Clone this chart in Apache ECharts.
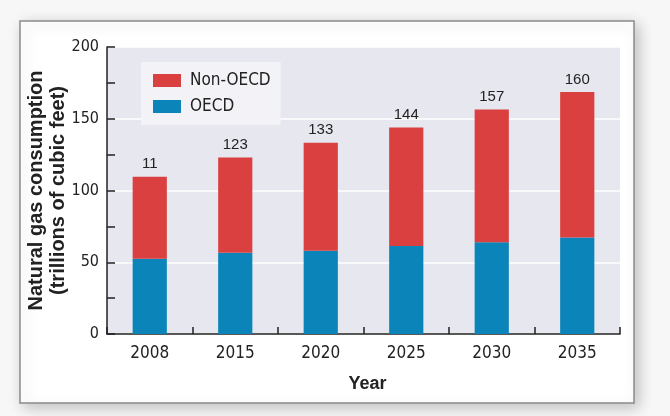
<!DOCTYPE html>
<html>
<head>
<meta charset="utf-8">
<script src="https://cdn.jsdelivr.net/npm/echarts@6/dist/echarts.min.js"></script>
<style>
html,body{margin:0;padding:0;background:#f7f7f7;}
#chart{width:670px;height:416px;}
</style>
</head>
<body>
<div id="chart"></div>
<script>
var years = ['2008', '2015', '2020', '2025', '2030', '2035'];
var oecd = [52.5, 56.6, 58.0, 61.3, 64.0, 67.3];
var nonOecd = [57.1, 66.4, 75.2, 82.6, 92.4, 101.4];
var topLabels = ['11', '123', '133', '144', '157', '160'];
var yTicks = [0, 50, 100, 150, 200];

var narrow = '"DejaVu Sans Condensed", "Liberation Sans Narrow", sans-serif';
var sans = '"Liberation Sans", Arial, sans-serif';

var chart = echarts.init(document.getElementById('chart'), null, {renderer: 'canvas'});
chart.setOption({
  animation: false,
  backgroundColor: '#f7f7f7',
  graphic: [{
    type: 'rect', z: -10, zlevel: 0,
    shape: {x: 20, y: 21, width: 614, height: 382},
    style: {fill: '#ffffff', stroke: '#8a8a8a', lineWidth: 1.5,
            shadowBlur: 14, shadowColor: 'rgba(0,0,0,0.22)', shadowOffsetX: 4, shadowOffsetY: 4}
  }],
  grid: {
    left: 107, right: 50, top: 47, bottom: 82,
    show: true, backgroundColor: '#e7e7f0', borderWidth: 0
  },
  legend: {
    data: ['Non-OECD', 'OECD'],
    orient: 'vertical',
    left: 141, top: 62,
    padding: [10, 10, 10, 12],
    itemWidth: 28, itemHeight: 13, itemGap: 9,
    backgroundColor: '#f3f3f7',
    icon: 'rect',
    textStyle: {fontFamily: narrow, fontSize: 17, color: '#222', padding: [0, 0, 0, 4]}
  },
  xAxis: {
    type: 'category',
    data: years,
    name: 'Year',
    nameLocation: 'middle',
    nameGap: 41,
    nameTextStyle: {fontFamily: sans, fontWeight: 'bold', fontSize: 18, color: '#222', verticalAlign: 'top', padding: [0, 0, 0, 8]},
    axisLine: {lineStyle: {color: '#222', width: 1.5}},
    axisTick: {show: true, inside: true, length: 7, lineStyle: {color: '#222', width: 1.5}},
    axisLabel: {fontFamily: narrow, fontSize: 17, color: '#222', margin: 11},
    splitLine: {show: false}
  },
  yAxis: {
    type: 'value',
    min: 0, max: 200, interval: 50,
    name: 'Natural gas consumption\n(trillions of cubic feet)',
    nameLocation: 'middle',
    nameGap: 38,
    nameMoveOverlap: false,
    nameTextStyle: {fontFamily: sans, fontWeight: 'bold', fontSize: 20, color: '#222', lineHeight: 22},
    axisLine: {show: true, lineStyle: {color: '#222', width: 1.5}},
    axisTick: {show: true, inside: true, length: 8, lineStyle: {color: '#222', width: 1.5}},
    minorTick: {show: true, splitNumber: 2, length: 8, lineStyle: {color: '#222', width: 1.5}},
    axisLabel: {fontFamily: narrow, fontSize: 16, color: '#222', margin: 8,
      formatter: function (v) { return yTicks.indexOf(v) >= 0 ? String(v) : ''; }},
    splitLine: {show: true, lineStyle: {color: '#ffffff', width: 1.5}}
  },
  series: [{
    name: 'OECD',
    type: 'bar',
    stack: 'total',
    barWidth: '40%',
    data: oecd,
    itemStyle: {color: '#0a84b9'}
  }, {
    name: 'Non-OECD',
    type: 'bar',
    stack: 'total',
    barWidth: '40%',
    data: nonOecd,
    itemStyle: {color: '#d9403f'},
    label: {
      show: true, position: 'top', distance: 5,
      fontFamily: sans, fontSize: 15, color: '#222',
      formatter: function (p) { return topLabels[p.dataIndex]; }
    }
  }]
});
</script>
</body>
</html>
